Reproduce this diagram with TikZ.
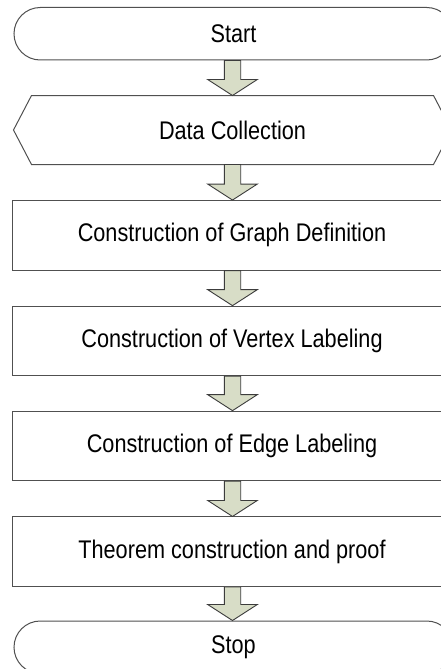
\documentclass[tikz,border=0pt]{standalone}
\usepackage{fontspec}
\setmainfont[FakeStretch=0.85]{Liberation Sans}
\usetikzlibrary{shapes.misc,calc}
\definecolor{boxline}{RGB}{80,80,80}
\definecolor{arrfill}{RGB}{216,221,199}
\definecolor{arrline}{RGB}{60,60,60}
\tikzset{
  base/.style={line width=1pt, draw=boxline, align=center, inner sep=0pt,
    font=\fontsize{25.5}{30}\selectfont},
  term/.style={base, rounded rectangle, minimum width=439pt, minimum height=52.5pt},
  proc/.style={base, rectangle, minimum width=440pt, minimum height=69.5pt},
  prep/.style={base, draw=none, rectangle, minimum width=437pt, minimum height=68pt},
  arr/.style={line width=0.9pt, draw=arrline, fill=arrfill, line join=miter}
}
\newcommand{\blockarr}[2]{%
  \path[arr] let \p1=(#1.south), \p2=(#2.north) in
    (224.3pt,\y1) -- (240.7pt,\y1) -- (240.7pt,\y2+16pt) -- (257.3pt,\y2+16pt)
    -- (232.5pt,\y2) -- (207.7pt,\y2+16pt) -- (224.3pt,\y2+16pt) -- cycle;}
\begin{document}
\begin{tikzpicture}[x=1pt,y=-1pt]
\clip (0,0) rectangle (441,669);
\fill[white] (0,0) rectangle (441,669);
\node[term] (start) at (233.5,33.75) {Start};
\node[prep] (data) at (232.5,130) {Data Collection};
\draw[line width=1pt, draw=boxline]
  (data.west) -- ([xshift=18pt]data.north west) -- ([xshift=-18pt]data.north east)
  -- (data.east) -- ([xshift=-18pt]data.south east) -- ([xshift=18pt]data.south west) -- cycle;
\node[proc] (graph) at (232,235.3) {Construction of Graph Definition};
\node[proc] (vertex) at (232,340.9) {Construction of Vertex Labeling};
\node[proc] (edge) at (232,445.9) {Construction of Edge Labeling};
\node[proc] (thm) at (232,551.7) {Theorem construction and proof};
\node[term] (stop) at (233.5,647.25) {Stop};
\blockarr{start}{data}
\blockarr{data}{graph}
\blockarr{graph}{vertex}
\blockarr{vertex}{edge}
\blockarr{edge}{thm}
\blockarr{thm}{stop}
\end{tikzpicture}
\end{document}
